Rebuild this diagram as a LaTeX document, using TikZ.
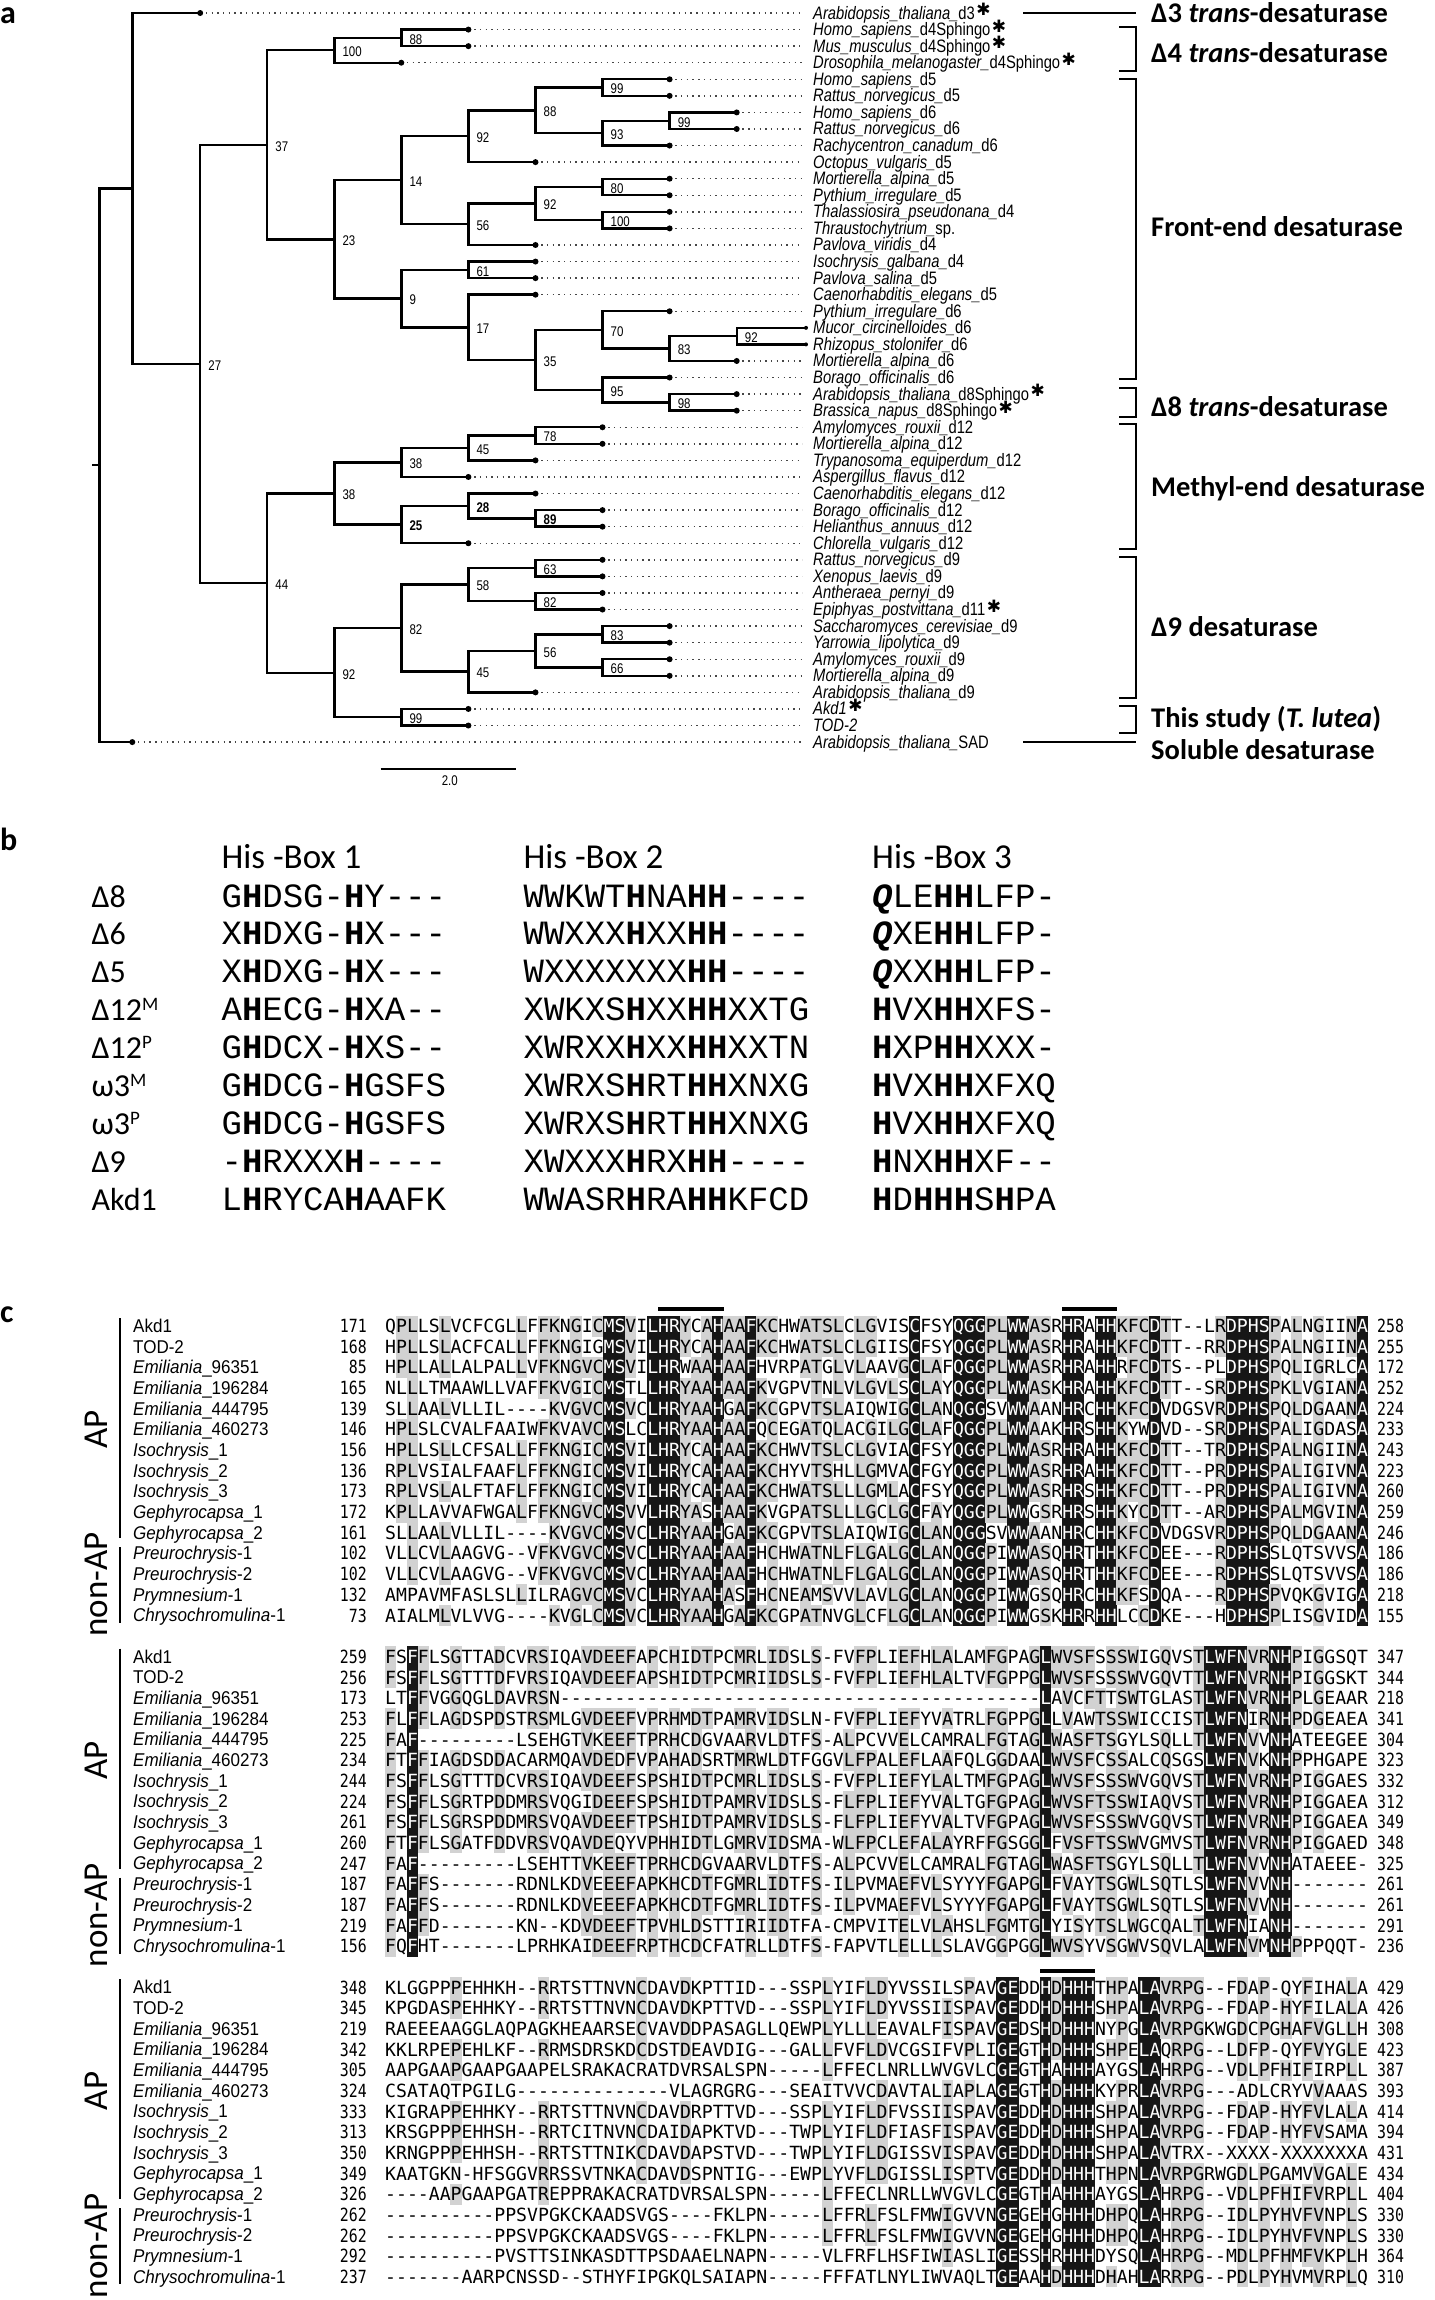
\documentclass[tikz,border=0pt]{standalone}
\usepackage{fontspec}
\usetikzlibrary{calc}
\newfontfamily\seqfont{DejaVu Sans Mono}
\newfontfamily\numfont[FakeStretch=0.82]{DejaVu Sans Mono}
\newfontfamily\namefont[FakeStretch=0.92]{Liberation Sans}
\newfontfamily\narrowfont[FakeStretch=0.82]{Liberation Sans}
\newfontfamily\calfont{Carlito}
\newfontfamily\courfont{Liberation Mono}
\newfontfamily\starfont{DejaVu Sans}
\definecolor{rkgrey}{RGB}{210,210,210}
\definecolor{rkblack}{RGB}{22,22,22}
\definecolor{dotgrey}{RGB}{70,70,70}
\newcommand\Star{\hspace{1.5pt}\raisebox{3.5pt}{\starfont\fontsize{17}{17}\selectfont ✱}}
\newcommand\hb{\textbf{H}}
\newcommand\qb{\textbf{\textit{Q}}}
\newcommand\RKgrey[3]{\fill[rkgrey] ({384.8+(#3-1)*10.92},{1315.5+(#1*16+#2-1)*20.67}) rectangle ++(11.32,21.07);}
\newcommand\RKblack[3]{\fill[rkblack] ({384.8+(#3-1)*10.92},{1315.5+(#1*16+#2-1)*20.67}) rectangle ++(11.32,21.07);}
\newcommand\RKwhite[4]{\node[seqch] (w#1-#2-#3) at ({385+(#3-1)*10.92},{1332.6+(#1*16+#2-1)*20.67}) {#4};}
\newcommand\RKrow[4]{\node[seqrow] (s#1-#2-#3) at ({385+(#3-1)*10.92},{1332.6+(#1*16+#2-1)*20.67}) {#4};}
\newcommand\Clade[4]{%
  \coordinate (tmp) at ($(#3)!0.5!(#4)$);
  \coordinate (#1) at (X#2 |- tmp);
  \draw[treeline] (#3) -| (#1) |- (#4);}
\ExplSyntaxOn
\seq_new:N \l__rk_rows_seq
\seq_new:N \l__rk_col_seq
\int_new:N \l__rk_max_int
\int_new:N \l__rk_cnt_int
\int_new:N \l__rk_row_int
\int_new:N \l__rk_segstart_int
\tl_new:N \l__rk_maxch_tl
\tl_new:N \l__rk_seg_tl
\tl_new:N \l__rk_row_tl
\clist_new:N \l__rk_black_clist
\cs_new_protected:Npn \__rk_flush:n #1
 {
  \tl_if_empty:NF \l__rk_seg_tl
   {
    \use:x
     {
      \exp_not:N \RKrow {#1} { \int_use:N \l__rk_row_int }
        { \int_use:N \l__rk_segstart_int } { \exp_not:V \l__rk_seg_tl }
     }
    \tl_clear:N \l__rk_seg_tl
   }
 }
\cs_new_protected:Npn \rk_block:nn #1#2
 {
  \seq_set_from_clist:Nn \l__rk_rows_seq {#2}
  \clist_clear:N \l__rk_black_clist
  \int_step_inline:nn {90}
   {
    \seq_clear:N \l__rk_col_seq
    \seq_map_inline:Nn \l__rk_rows_seq
     { \seq_put_right:Nx \l__rk_col_seq { \str_item:nn {####1} {##1} } }
    \int_zero:N \l__rk_max_int
    \tl_clear:N \l__rk_maxch_tl
    \seq_map_inline:Nn \l__rk_col_seq
     {
      \str_if_eq:nnF {####1} {-}
       {
        \int_zero:N \l__rk_cnt_int
        \seq_map_inline:Nn \l__rk_col_seq
         { \str_if_eq:nnT {####1} {########1} { \int_incr:N \l__rk_cnt_int } }
        \int_compare:nNnT \l__rk_cnt_int > \l__rk_max_int
         {
          \int_set_eq:NN \l__rk_max_int \l__rk_cnt_int
          \tl_set:Nn \l__rk_maxch_tl {####1}
         }
       }
     }
    \int_compare:nNnT \l__rk_max_int = {15}
     { \clist_put_right:Nn \l__rk_black_clist {##1} }
    \int_compare:nNnT \l__rk_max_int > 7
     {
      \int_zero:N \l__rk_row_int
      \seq_map_inline:Nn \l__rk_col_seq
       {
        \int_incr:N \l__rk_row_int
        \str_if_eq:VnT \l__rk_maxch_tl {####1}
         {
          \int_compare:nNnTF \l__rk_max_int = {15}
           { \exp_args:Nnx \RKblack {#1} { \int_use:N \l__rk_row_int } {##1} }
           { \exp_args:Nnx \RKgrey {#1} { \int_use:N \l__rk_row_int } {##1} }
         }
       }
     }
   }
  \int_zero:N \l__rk_row_int
  \seq_map_inline:Nn \l__rk_rows_seq
   {
    \int_incr:N \l__rk_row_int
    \tl_set:Nn \l__rk_row_tl {##1}
    \tl_clear:N \l__rk_seg_tl
    \int_set:Nn \l__rk_segstart_int {1}
    \int_step_inline:nn {90}
     {
      \clist_if_in:NnTF \l__rk_black_clist {####1}
       {
        \__rk_flush:n {#1}
        \use:x
         {
          \exp_not:N \RKwhite {#1} { \int_use:N \l__rk_row_int } {####1}
            { \str_item:Nn \l__rk_row_tl {####1} }
         }
        \int_set:Nn \l__rk_segstart_int { ####1 + 1 }
       }
       { \tl_put_right:Nx \l__rk_seg_tl { \str_item:Nn \l__rk_row_tl {####1} } }
     }
    \__rk_flush:n {#1}
   }
 }
\cs_new_eq:NN \AlnBlock \rk_block:nn
\ExplSyntaxOff
\tikzset{
  treeline/.style={line width=2.4pt, line join=miter},
  dotline/.style={dotgrey, line width=1.4pt, dash pattern=on 1.4pt off 4.3pt},
  leaflab/.style={anchor=base west, inner sep=0pt, font=\narrowfont\fontsize{18}{18}\selectfont},
  bs/.style={anchor=west, inner sep=0pt, font=\narrowfont\fontsize{14}{14}\selectfont},
  bsbold/.style={bs, font=\narrowfont\bfseries\fontsize{14}{14}\selectfont},
  catlab/.style={anchor=base west, inner sep=0pt, font=\calfont\bfseries\fontsize{28.5}{30}\selectfont},
  brk/.style={line width=2.4pt, line join=miter},
  panlab/.style={anchor=base west, inner sep=0pt, font=\calfont\bfseries\fontsize{32}{32}\selectfont},
  hdr/.style={anchor=base west, inner sep=0pt, font=\calfont\fontsize{35}{35}\selectfont},
  rowlab/.style={anchor=base west, inner sep=0pt, font=\calfont\fontsize{32}{32}\selectfont},
  motif/.style={anchor=base west, inner sep=0pt, font=\courfont\fontsize{34}{34}\selectfont},
  namelab/.style={anchor=base west, inner sep=0pt, font=\namefont\fontsize{18.5}{20}\selectfont},
  lnum/.style={anchor=base east, inner sep=0pt, font=\numfont\fontsize{18.14}{20}\selectfont},
  rnum/.style={anchor=base west, inner sep=0pt, font=\numfont\fontsize{18.14}{20}\selectfont},
  seqrow/.style={anchor=base west, inner sep=0pt, font=\seqfont\fontsize{18.14}{20}\selectfont},
  seqch/.style={seqrow, text=white},
  grplab/.style={rotate=90, inner sep=0pt, font=\calfont\fontsize{35}{35}\selectfont},
  grpbar/.style={line width=2.4pt},
  hbar/.style={line width=4pt}
}
\begin{document}
\begin{tikzpicture}[x=1pt,y=-1pt]
\useasboundingbox (0,0) rectangle (1435,2300);
\fill[white] (0,0) rectangle (1435,2300);
% ================= panel a =================
\node[panlab] (pa) at (0,23) {a};
\coordinate (X0) at (99.4,0);
\coordinate (X1) at (132.3,0);
\coordinate (X2) at (200.2,0);
\coordinate (X3) at (267.2,0);
\coordinate (X4) at (334.3,0);
\coordinate (X5) at (401.3,0);
\coordinate (X6) at (468.4,0);
\coordinate (X7) at (535.5,0);
\coordinate (X8) at (602.5,0);
\coordinate (X9) at (669.6,0);
\coordinate (X10) at (736.7,0);
\coordinate (X11) at (806,0);
\coordinate (Xe) at (802,0);
\foreach \i in {1,...,45} \coordinate (Y\i) at (0,{13+(\i-1)*16.57});
\foreach \i/\k/\lab in {
1/2/{\textit{Arabidopsis\_thaliana\_}d3\Star},
2/6/{\textit{Homo\_sapiens\_}d4Sphingo\Star},
3/6/{\textit{Mus\_musculus\_}d4Sphingo\Star},
4/5/{\textit{Drosophila\_melanogaster\_}d4Sphingo\Star},
5/9/{\textit{Homo\_sapiens\_}d5},
6/9/{\textit{Rattus\_norvegicus\_}d5},
7/10/{\textit{Homo\_sapiens\_}d6},
8/10/{\textit{Rattus\_norvegicus\_}d6},
9/9/{\textit{Rachycentron\_canadum\_}d6},
10/7/{\textit{Octopus\_vulgaris\_}d5},
11/9/{\textit{Mortierella\_alpina\_}d5},
12/9/{\textit{Pythium\_irregulare\_}d5},
13/9/{\textit{Thalassiosira\_pseudonana\_}d4},
14/9/{\textit{Thraustochytrium\_}sp.},
15/7/{\textit{Pavlova\_viridis\_}d4},
16/7/{\textit{Isochrysis\_galbana\_}d4},
17/7/{\textit{Pavlova\_salina\_}d5},
18/7/{\textit{Caenorhabditis\_elegans\_}d5},
19/9/{\textit{Pythium\_irregulare\_}d6},
20/11/{\textit{Mucor\_circinelloides\_}d6},
21/11/{\textit{Rhizopus\_stolonifer\_}d6},
22/10/{\textit{Mortierella\_alpina\_}d6},
23/9/{\textit{Borago\_officinalis\_}d6},
24/10/{\textit{Arabidopsis\_thaliana\_}d8Sphingo\Star},
25/10/{\textit{Brassica\_napus\_}d8Sphingo\Star},
26/8/{\textit{Amylomyces\_rouxii\_}d12},
27/8/{\textit{Mortierella\_alpina\_}d12},
28/7/{\textit{Trypanosoma\_equiperdum\_}d12},
29/6/{\textit{Aspergillus\_flavus\_}d12},
30/7/{\textit{Caenorhabditis\_elegans\_}d12},
31/8/{\textit{Borago\_officinalis\_}d12},
32/8/{\textit{Helianthus\_annuus\_}d12},
33/6/{\textit{Chlorella\_vulgaris\_}d12},
34/8/{\textit{Rattus\_norvegicus\_}d9},
35/8/{\textit{Xenopus\_laevis\_}d9},
36/8/{\textit{Antheraea\_pernyi\_}d9},
37/8/{\textit{Epiphyas\_postvittana\_}d11\Star},
38/9/{\textit{Saccharomyces\_cerevisiae\_}d9},
39/9/{\textit{Yarrowia\_lipolytica\_}d9},
40/9/{\textit{Amylomyces\_rouxii\_}d9},
41/9/{\textit{Mortierella\_alpina\_}d9},
42/7/{\textit{Arabidopsis\_thaliana\_}d9},
43/6/{\textit{Akd1}\Star},
44/6/{\textit{TOD-2}},
45/1/{\textit{Arabidopsis\_thaliana\_}SAD}}
{
  \coordinate (D\i) at (X\k |- Y\i);
  \node[leaflab] (T\i) at (813,{19+(\i-1)*16.57}) {\lab};
}
\foreach \i in {1,...,19,22,23,...,45} {
  \draw[dotline] (D\i) -- (D\i -| Xe);
}
% clades
\Clade{N4a}{5}{D2}{D3}
\Clade{N4}{4}{N4a}{D4}
\Clade{N13}{9}{D7}{D8}
\Clade{N11}{8}{D5}{D6}
\Clade{N12}{8}{N13}{D9}
\Clade{N10}{7}{N11}{N12}
\Clade{N8}{6}{N10}{D10}
\Clade{N15}{8}{D11}{D12}
\Clade{N16}{8}{D13}{D14}
\Clade{N14}{7}{N15}{N16}
\Clade{N9}{6}{N14}{D15}
\Clade{N6}{5}{N8}{N9}
\Clade{N17}{6}{D16}{D17}
\Clade{N23}{10}{D20}{D21}
\Clade{N22}{9}{N23}{D22}
\Clade{N20}{8}{D19}{N22}
\Clade{N42}{9}{D24}{D25}
\Clade{N21}{8}{D23}{N42}
\Clade{N19}{7}{N20}{N21}
\Clade{N18}{6}{D18}{N19}
\Clade{N7}{5}{N17}{N18}
\Clade{N5}{4}{N6}{N7}
\Clade{N3}{3}{N4}{N5}
\Clade{N30}{7}{D26}{D27}
\Clade{N29}{6}{N30}{D28}
\Clade{N27}{5}{N29}{D29}
\Clade{N32}{7}{D31}{D32}
\Clade{N31}{6}{D30}{N32}
\Clade{N28}{5}{N31}{D33}
\Clade{N25}{4}{N27}{N28}
\Clade{N37}{7}{D34}{D35}
\Clade{N38}{7}{D36}{D37}
\Clade{N35}{6}{N37}{N38}
\Clade{N40}{8}{D38}{D39}
\Clade{N41}{8}{D40}{D41}
\Clade{N39}{7}{N40}{N41}
\Clade{N36}{6}{N39}{D42}
\Clade{N33}{5}{N35}{N36}
\Clade{N34}{5}{D43}{D44}
\Clade{N26}{4}{N33}{N34}
\Clade{N24}{3}{N25}{N26}
\Clade{N2}{2}{N3}{N24}
\Clade{N1}{1}{D1}{N2}
\Clade{R}{0}{N1}{D45}
\coordinate (Rs) at ([xshift=-7.4pt]R);
\draw[treeline] (R) -- (Rs);
\foreach \i in {1,...,19,22,23,...,45} \fill (D\i) circle (3);
\fill (D20) circle (2); \fill (D21) circle (2);
% bootstrap values
\foreach \n/\v in {N4a/88,N4/100,N3/37,N13/99,N11/99,N12/93,N10/88,N8/92,N15/80,N16/100,N14/92,N9/56,N6/14,N17/61,N23/92,N22/83,N20/70,N42/98,N21/95,N19/35,N18/17,N7/9,N5/23,N2/27,N30/78,N29/45,N27/38,N25/38,N37/63,N38/82,N35/58,N40/83,N41/66,N39/56,N36/45,N33/82,N34/99,N26/92,N24/44}
  \node[bs] (b\n) at ([xshift=8pt,yshift=-1.5pt]\n) {\v};
\foreach \n/\v in {N32/89,N31/28,N28/25}
  \node[bsbold] (b\n) at ([xshift=8pt,yshift=-1.5pt]\n) {\v};
% scale bar
\coordinate (sb1) at (380.5,769);
\coordinate (sb2) at (516.2,769);
\draw[line width=2.2pt] (sb1) -- (sb2);
\node[bs, anchor=center] (sbl) at (449.8,781) {2.0};
% categories
\coordinate (d3a) at (1023,13); \coordinate (d3b) at (1136,13);
\draw[brk] (d3a) -- (d3b);
\coordinate (sda) at (1023,742); \coordinate (sdb) at (1136,742);
\draw[brk] (sda) -- (sdb);
\foreach \t/\bb in {27/71, 79/379, 388/417, 424/549, 557/698, 706/733}
  \draw[brk] (1119,\t) -- (1136,\t) -- (1136,\bb) -- (1119,\bb);
\node[catlab] (c1) at (1151,22) {Δ3 \textit{trans}-desaturase};
\node[catlab] (c2) at (1151,62) {Δ4 \textit{trans}-desaturase};
\node[catlab] (c3) at (1151,236) {Front-end desaturase};
\node[catlab] (c4) at (1151,416) {Δ8 \textit{trans}-desaturase};
\node[catlab] (c5) at (1151,496) {Methyl-end desaturase};
\node[catlab] (c6) at (1151,636) {Δ9 desaturase};
\node[catlab] (c7) at (1151,727) {This study (\textit{T. lutea})};
\node[catlab] (c8) at (1151,759) {Soluble desaturase};
% ================= panel b =================
\node[panlab] (pb) at (0,850) {b};
\node[hdr] (h1) at (221.4,868) {His -Box 1};
\node[hdr] (h2) at (523.4,868) {His -Box 2};
\node[hdr] (h3) at (872,868) {His -Box 3};
\node[rowlab] (r0) at (91.5,907) {Δ8};
\node[rowlab] (r1) at (91.5,944.9) {Δ6};
\node[rowlab] (r2) at (91.5,982.8) {Δ5};
\node[rowlab] (r3) at (91.5,1020.7) {Δ12\raisebox{10pt}{\fontsize{19}{19}\selectfont M}};
\node[rowlab] (r4) at (91.5,1058.6) {Δ12\raisebox{10pt}{\fontsize{19}{19}\selectfont P}};
\node[rowlab] (r5) at (91.5,1096.5) {ω3\raisebox{10pt}{\fontsize{19}{19}\selectfont M}};
\node[rowlab] (r6) at (91.5,1134.4) {ω3\raisebox{10pt}{\fontsize{19}{19}\selectfont P}};
\node[rowlab] (r7) at (91.5,1172.3) {Δ9};
\node[rowlab] (r8) at (91.5,1210.2) {Akd1};
\node[motif] (m0a) at (221.4,907) {G\hb DSG-\hb Y---};
\node[motif] (m0b) at (523.4,907) {WWKWT\hb NA\hb\hb ----};
\node[motif] (m0c) at (872,907) {\qb LE\hb\hb LFP-};
\node[motif] (m1a) at (221.4,944.9) {X\hb DXG-\hb X---};
\node[motif] (m1b) at (523.4,944.9) {WWXXX\hb XX\hb\hb ----};
\node[motif] (m1c) at (872,944.9) {\qb XE\hb\hb LFP-};
\node[motif] (m2a) at (221.4,982.8) {X\hb DXG-\hb X---};
\node[motif] (m2b) at (523.4,982.8) {WXXXXXXX\hb\hb ----};
\node[motif] (m2c) at (872,982.8) {\qb XX\hb\hb LFP-};
\node[motif] (m3a) at (221.4,1020.7) {A\hb ECG-\hb XA--};
\node[motif] (m3b) at (523.4,1020.7) {XWKXS\hb XX\hb\hb XXTG};
\node[motif] (m3c) at (872,1020.7) {\hb VX\hb\hb XFS-};
\node[motif] (m4a) at (221.4,1058.6) {G\hb DCX-\hb XS--};
\node[motif] (m4b) at (523.4,1058.6) {XWRXX\hb XX\hb\hb XXTN};
\node[motif] (m4c) at (872,1058.6) {\hb XP\hb\hb XXX-};
\node[motif] (m5a) at (221.4,1096.5) {G\hb DCG-\hb GSFS};
\node[motif] (m5b) at (523.4,1096.5) {XWRXS\hb RT\hb\hb XNXG};
\node[motif] (m5c) at (872,1096.5) {\hb VX\hb\hb XFXQ};
\node[motif] (m6a) at (221.4,1134.4) {G\hb DCG-\hb GSFS};
\node[motif] (m6b) at (523.4,1134.4) {XWRXS\hb RT\hb\hb XNXG};
\node[motif] (m6c) at (872,1134.4) {\hb VX\hb\hb XFXQ};
\node[motif] (m7a) at (221.4,1172.3) {-\hb RXXX\hb ----};
\node[motif] (m7b) at (523.4,1172.3) {XWXXX\hb RX\hb\hb ----};
\node[motif] (m7c) at (872,1172.3) {\hb NX\hb\hb XF--};
\node[motif] (m8a) at (221.4,1210.2) {L\hb RYCA\hb AAFK};
\node[motif] (m8b) at (523.4,1210.2) {WWASR\hb RA\hb\hb KFCD};
\node[motif] (m8c) at (872,1210.2) {\hb D\hb\hb\hb S\hb PA};
% ================= panel c =================
\node[panlab] (pc) at (0,1322) {c};
\AlnBlock{0}{
QPLLSLVCFCGLLFFKNGICMSVILHRYCAHAAFKCHWATSLCLGVISCFSYQGGPLWWASRHRAHHKFCDTT--LRDPHSPALNGIINA,
HPLLSLACFCALLFFKNGIGMSVILHRYCAHAAFKCHWATSLCLGIISCFSYQGGPLWWASRHRAHHKFCDTT--RRDPHSPALNGIINA,
HPLLALLALPALLVFKNGVCMSVILHRWAAHAAFHVRPATGLVLAAVGCLAFQGGPLWWASRHRAHHRFCDTS--PLDPHSPQLIGRLCA,
NLLLTMAAWLLVAFFKVGICMSTLLHRYAAHAAFKVGPVTNLVLGVLSCLAYQGGPLWWASKHRAHHKFCDTT--SRDPHSPKLVGIANA,
SLLAALVLLIL----KVGVCMSVCLHRYAAHGAFKCGPVTSLAIQWIGCLANQGGSVWWAANHRCHHKFCDVDGSVRDPHSPQLDGAANA,
HPLSLCVALFAAIWFKVAVCMSLCLHRYAAHAAFQCEGATQLACGILGCLAFQGGPLWWAAKHRSHHKYWDVD--SRDPHSPALIGDASA,
HPLLSLLCFSALLFFKNGICMSVILHRYCAHAAFKCHWVTSLCLGVIACFSYQGGPLWWASRHRAHHKFCDTT--TRDPHSPALNGIINA,
RPLVSIALFAAFLFFKNGICMSVILHRYCAHAAFKCHYVTSHLLGMVACFGYQGGPLWWASRHRAHHKFCDTT--PRDPHSPALIGIVNA,
RPLVSLALFTAFLFFKNGICMSVILHRYCAHAAFKCHWATSLLLGMLACFSYQGGPLWWASRHRSHHKFCDTT--PRDPHSPALIGIVNA,
KPLLAVVAFWGALFFKNGVCMSVVLHRYASHAAFKVGPATSLLLGCLGCFAYQGGPLWWGSRHRSHHKYCDTT--ARDPHSPALMGVINA,
SLLAALVLLIL----KVGVCMSVCLHRYAAHGAFKCGPVTSLAIQWIGCLANQGGSVWWAANHRCHHKFCDVDGSVRDPHSPQLDGAANA,
VLLCVLAAGVG--VFKVGVCMSVCLHRYAAHAAFHCHWATNLFLGALGCLANQGGPIWWASQHRTHHKFCDEE---RDPHSSLQTSVVSA,
VLLCVLAAGVG--VFKVGVCMSVCLHRYAAHAAFHCHWATNLFLGALGCLANQGGPIWWASQHRTHHKFCDEE---RDPHSSLQTSVVSA,
AMPAVMFASLSLLILRAGVCMSVCLHRYAAHASFHCNEAMSVVLAVLGCLANQGGPIWWGSQHRCHHKFSDQA---RDPHSPVQKGVIGA,
AIALMLVLVVG----KVGLCMSVCLHRYAAHGAFKCGPATNVGLCFLGCLANQGGPIWWGSKHRRHHLCCDKE---HDPHSPLISGVIDA}
\AlnBlock{1}{
FSFFLSGTTADCVRSIQAVDEEFAPCHIDTPCMRLIDSLS-FVFPLIEFHLALAMFGPAGLWVSFSSSWIGQVSTLWFNVRNHPIGGSQT,
FSFFLSGTTTDFVRSIQAVDEEFAPSHIDTPCMRIIDSLS-FVFPLIEFHLALTVFGPPGLWVSFSSSWVGQVTTLWFNVRNHPIGGSKT,
LTFFVGGQGLDAVRSN--------------------------------------------LAVCFTTSWTGLASTLWFNVRNHPLGEAAR,
FLFFLAGDSPDSTRSMLGVDEEFVPRHMDTPAMRVIDSLN-FVFPLIEFYVATRLFGPPGLLVAWTSSWICCISTLWFNIRNHPDGEAEA,
FAF---------LSEHGTVKEEFTPRHCDGVAARVLDTFS-ALPCVVELCAMRALFGTAGLWASFTSGYLSQLLTLWFNVVNHATEEGEE,
FTFFIAGDSDDACARMQAVDEDFVPAHADSRTMRWLDTFGGVLFPALEFLAAFQLGGDAALWVSFCSSALCQSGSLWFNVKNHPPHGAPE,
FSFFLSGTTTDCVRSIQAVDEEFSPSHIDTPCMRLIDSLS-FVFPLIEFYLALTMFGPAGLWVSFSSSWVGQVSTLWFNVRNHPIGGAES,
FSFFLSGRTPDDMRSVQGIDEEFSPSHIDTPAMRVIDSLS-FLFPLIEFYVALTGFGPAGLWVSFTSSWIAQVSTLWFNVRNHPIGGAEA,
FSFFLSGRSPDDMRSVQAVDEEFTPSHIDTPAMRVIDSLS-FLFPLIEFYVALTVFGPAGLWVSFSSSWVGQVSTLWFNVRNHPIGGAEA,
FTFFLSGATFDDVRSVQAVDEQYVPHHIDTLGMRVIDSMA-WLFPCLEFALAYRFFGSGGLFVSFTSSWVGMVSTLWFNVRNHPIGGAED,
FAF---------LSEHTTVKEEFTPRHCDGVAARVLDTFS-ALPCVVELCAMRALFGTAGLWASFTSGYLSQLLTLWFNVVNHATAEEE-,
FAFFS-------RDNLKDVEEEFAPKHCDTFGMRLIDTFS-ILPVMAEFVLSYYYFGAPGLFVAYTSGWLSQTLSLWFNVVNH-------,
FAFFS-------RDNLKDVEEEFAPKHCDTFGMRLIDTFS-ILPVMAEFVLSYYYFGAPGLFVAYTSGWLSQTLSLWFNVVNH-------,
FAFFD-------KN--KDVDEEFTPVHLDSTTIRIIDTFA-CMPVITELVLAHSLFGMTGLYISYTSLWGCQALTLWFNIANH-------,
FQFHT-------LPRHKAIDEEFRPTHCDCFATRLLDTFS-FAPVTLELLLSLAVGGPGGLWVSYVSGWVSQVLALWFNVMNHPPPQQT-}
\AlnBlock{2}{
KLGGPPPEHHKH--RRTSTTNVNCDAVDKPTTID---SSPLYIFLDYVSSILSPAVGEDDHDHHHTHPALAVRPG--FDAP-QYFIHALA,
KPGDASPEHHKY--RRTSTTNVNCDAVDKPTTVD---SSPLYIFLDYVSSIISPAVGEDDHDHHHSHPALAVRPG--FDAP-HYFILALA,
RAEEEAAGGLAQPAGKHEAARSECVAVDDPASAGLLQEWPLYLLLEAVALFISPAVGEDSHDHHHNYPGLAVRPGKWGDCPGHAFVGLLH,
KKLRPEPEHLKF--RRMSDRSKDCDSTDEAVDIG---GALLFVFLDVCGSIFVPLIGEGTHDHHHSHPELAQRPG--LDFP-QYFVYGLE,
AAPGAAPGAAPGAAPELSRAKACRATDVRSALSPN-----LFFECLNRLLWVGVLCGEGTHAHHHAYGSLAHRPG--VDLPFHIFIRPLL,
CSATAQTPGILG--------------VLAGRGRG---SEAITVVCDAVTALIAPLAGEGTHDHHHKYPRLAVRPG---ADLCRYVVAAAS,
KIGRAPPEHHKY--RRTSTTNVNCDAVDRPTTVD---SSPLYIFLDFVSSIISPAVGEDDHDHHHSHPALAVRPG--FDAP-HYFVLALA,
KRSGPPPEHHSH--RRTCITNVNCDAIDAPKTVD---TWPLYIFLDFIASFISPAVGEDDHDHHHSHPALAVRPG--FDAP-HYFVSAMA,
KRNGPPPEHHSH--RRTSTTNIKCDAVDAPSTVD---TWPLYIFLDGISSVISPAVGEDDHDHHHSHPALAVTRX--XXXX-XXXXXXXA,
KAATGKN-HFSGGVRRSSVTNKACDAVDSPNTIG---EWPLYVFLDGISSLISPTVGEDDHDHHHTHPNLAVRPGRWGDLPGAMVVGALE,
----AAPGAAPGATREPPRAKACRATDVRSALSPN-----LFFECLNRLLWVGVLCGEGTHAHHHAYGSLAHRPG--VDLPFHIFVRPLL,
----------PPSVPGKCKAADSVGS----FKLPN-----LFFRLFSLFMWIGVVNGEGEHGHHHDHPQLAHRPG--IDLPYHVFVNPLS,
----------PPSVPGKCKAADSVGS----FKLPN-----LFFRLFSLFMWIGVVNGEGEHGHHHDHPQLAHRPG--IDLPYHVFVNPLS,
----------PVSTTSINKASDTTPSDAAELNAPN-----VLFRFLHSFIWIASLIGESSHRHHHDYSQLAHRPG--MDLPFHMFVKPLH,
-------AARPCNSSD--STHYFIPGKQLSAIAPN-----FFFATLNYLIWVAQLTGEAAHDHHHDHAHLARRPG--PDLPYHVMVRPLQ}
% names, group labels
\foreach \b in {0,1,2} {
  \pgfmathsetmacro\o{\b*330.72}
  \foreach \nm [count=\r] in {Akd1,TOD-2,{\textit{Emiliania}\_96351},{\textit{Emiliania}\_196284},{\textit{Emiliania}\_444795},{\textit{Emiliania}\_460273},{\textit{Isochrysis}\_1},{\textit{Isochrysis}\_2},{\textit{Isochrysis}\_3},{\textit{Gephyrocapsa}\_1},{\textit{Gephyrocapsa}\_2},{\textit{Preurochrysis}-1},{\textit{Preurochrysis}-2},{\textit{Prymnesium}-1},{\textit{Chrysochromulina}-1}}
    \node[namelab] (n\b-\r) at (133,{1332.4+\o+(\r-1)*20.67}) {\nm};
  \coordinate (apa\b) at (120,{1318+\o});
  \coordinate (apb\b) at (120,{1538+\o});
  \draw[grpbar] (apa\b) -- (apb\b);
  \coordinate (npa\b) at (120,{1547+\o});
  \coordinate (npb\b) at (120,{1623+\o});
  \draw[grpbar] (npa\b) -- (npb\b);
  \node[grplab] (ap\b) at (96,{1429.4+\o}) {AP};
  \node[grplab] (nap\b) at (96,{1584.4+\o}) {non-AP};
}
\foreach \s/\e [count=\r] in {171/258,168/255,85/172,165/252,139/224,146/233,156/243,136/223,173/260,172/259,161/246,102/186,102/186,132/218,73/155} {
  \node[lnum] (la0-\r) at (367,{1332.6+(\r-1)*20.67}) {\s};
  \node[rnum] (ra0-\r) at (1377,{1332.6+(\r-1)*20.67}) {\e};
}
\foreach \s/\e [count=\r] in {259/347,256/344,173/218,253/341,225/304,234/323,244/332,224/312,261/349,260/348,247/325,187/261,187/261,219/291,156/236} {
  \node[lnum] (la1-\r) at (367,{1663.32+(\r-1)*20.67}) {\s};
  \node[rnum] (ra1-\r) at (1377,{1663.32+(\r-1)*20.67}) {\e};
}
\foreach \s/\e [count=\r] in {348/429,345/426,219/308,342/423,305/387,324/393,333/414,313/394,350/431,349/434,326/404,262/330,262/330,292/364,237/310} {
  \node[lnum] (la2-\r) at (367,{1994.04+(\r-1)*20.67}) {\s};
  \node[rnum] (ra2-\r) at (1377,{1994.04+(\r-1)*20.67}) {\e};
}
% motif bars
\coordinate (hb1a) at (658,1309); \coordinate (hb1b) at (723.5,1309);
\draw[hbar] (hb1a) -- (hb1b);
\coordinate (hb2a) at (1062,1309); \coordinate (hb2b) at (1116.6,1309);
\draw[hbar] (hb2a) -- (hb2b);
\coordinate (hb3a) at (1040.2,1971); \coordinate (hb3b) at (1094.8,1971);
\draw[hbar] (hb3a) -- (hb3b);
\end{tikzpicture}
\end{document}
